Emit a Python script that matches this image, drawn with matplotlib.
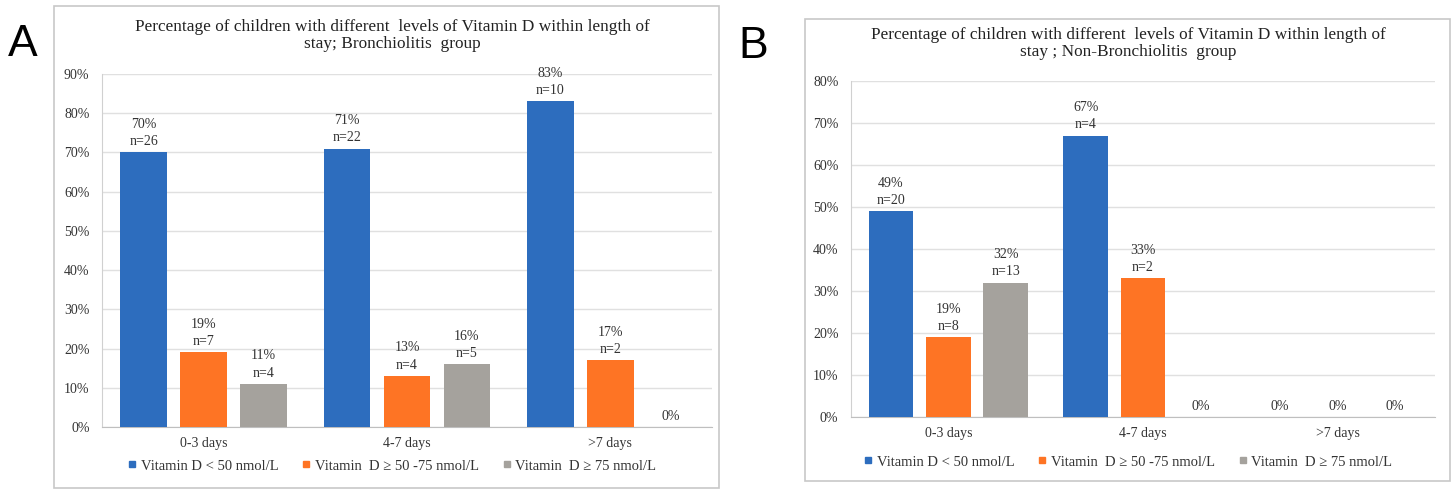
import matplotlib
matplotlib.use("Agg")
import matplotlib.pyplot as plt
from matplotlib.patches import Rectangle
from matplotlib.lines import Line2D
import numpy as np

categories = ["0-3 days", "4-7 days", ">7 days"]
series_names = ["Vitamin D < 50 nmol/L", "Vitamin  D \u2265 50 -75 nmol/L", "Vitamin  D \u2265 75 nmol/L"]
colors = ["#2D6DBE", "#FE7424", "#A5A29D"]

# Panel A: Bronchiolitis group
a_low = [70, 71, 83]
a_mid = [19, 13, 17]
a_high = [11, 16, 0]
a_n_low = [26, 22, 10]
a_n_mid = [7, 4, 2]
a_n_high = [4, 5, None]

# Panel B: Non-Bronchiolitis group
b_low = [49, 67, 0]
b_mid = [19, 33, 0]
b_high = [32, 0, 0]
b_n_low = [20, 4, None]
b_n_mid = [8, 2, None]
b_n_high = [13, None, None]

title_a = "Percentage of children with different  levels of Vitamin D within length of\nstay; Bronchiolitis  group"
title_b = "Percentage of children with different  levels of Vitamin D within length of\nstay ; Non-Bronchiolitis  group"

W, H = 1456, 491
fig = plt.figure(figsize=(W / 100, H / 100), dpi=100)
plt.rcParams['font.family'] = ['Liberation Serif', 'DejaVu Serif']

TXT = "#333333"


def fx(x):
    return x / W


def fy(y):
    return 1 - y / H


def panel(box, axbox, title, title_y, letter, letter_pos, values, ns, ymax, legend_y):
    x0, y0, x1, y1 = box
    fig.patches.append(Rectangle((fx(x0), fy(y1)), fx(x1 - x0), (y1 - y0) / H,
                                 transform=fig.transFigure, fill=False,
                                 edgecolor="#C8C8C8", lw=1.2))
    fig.text(fx(letter_pos[0]), fy(letter_pos[1]), letter, family="Liberation Sans",
             fontsize=32, ha="left", va="center", color="black")
    l, t, r, b = axbox
    ax = fig.add_axes([fx(l), fy(b), fx(r - l), (b - t) / H])
    x = np.arange(len(categories))
    width = 0.23
    offs = [-0.295, 0.0, 0.295]
    for i, (vals, nn) in enumerate(zip(values, ns)):
        v = np.array(vals) / 100.0
        ax.bar(x + offs[i], v, width, color=colors[i], zorder=3)
        for xi, vi, ni in zip(x + offs[i], vals, nn):
            lab = f"{vi}%" if ni is None else f"{vi}%\nn={ni}"
            ax.annotate(lab, (xi, vi / 100.0), xytext=(0, 3), textcoords="offset points",
                        ha="center", va="bottom", fontsize=10, color=TXT, linespacing=1.45)
    ax.set_xlim(-0.5, len(categories) - 0.5)
    ax.set_ylim(0, ymax)
    ax.set_yticks(np.arange(0, ymax + 0.001, 0.1))
    ax.set_yticklabels([f"{int(round(t * 100))}%" for t in ax.get_yticks()])
    ax.set_xticks(x)
    ax.set_xticklabels(categories)
    ax.tick_params(length=0, labelsize=10, colors=TXT, pad=7)
    ax.tick_params(axis="y", pad=9)
    ax.grid(axis="y", color="#E0E0E0", lw=1, zorder=0)
    for s in ["top", "right"]:
        ax.spines[s].set_visible(False)
    ax.spines["left"].set_color("#D0D0D0")
    ax.spines["bottom"].set_color("#BFBFBF")
    fig.text(fx((l + r) / 2 - 15), fy(title_y), title,
             ha="center", va="top", fontsize=12.4, color="#222222", linespacing=1.08)
    handles = [Line2D([0], [0], marker="s", ls="", color=c, markersize=5) for c in colors]
    fig.legend(handles, series_names, loc="center", bbox_to_anchor=(fx((l + r) / 2 - 15), fy(legend_y)),
               ncol=3, frameon=False, fontsize=10.5, handlelength=0.6, handletextpad=0.3,
               columnspacing=1.6, labelcolor=TXT)
    return ax


panel((54, 6, 719, 488), (102, 74, 712, 427), title_a, 19, "A", (8, 44),
      [a_low, a_mid, a_high], [a_n_low, a_n_mid, a_n_high], 0.9, 466)
panel((805, 19, 1450, 481), (851, 81, 1435, 417), title_b, 27, "B", (738, 47),
      [b_low, b_mid, b_high], [b_n_low, b_n_mid, b_n_high], 0.8, 462)

fig.savefig("out.png", dpi=100)
